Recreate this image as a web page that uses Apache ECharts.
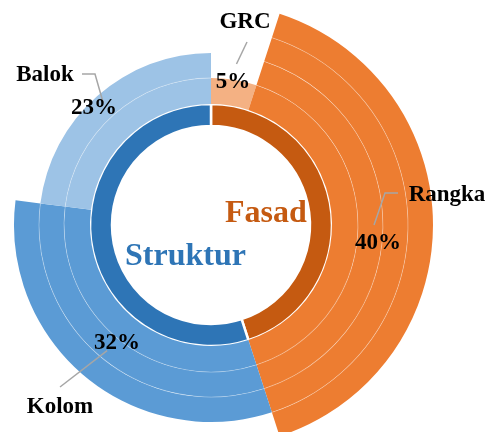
<!DOCTYPE html>
<html><head><meta charset="utf-8">
<script src="https://cdn.jsdelivr.net/npm/echarts@6/dist/echarts.min.js"></script>
<style>html,body{margin:0;padding:0;background:#fff}#c{width:487px;height:432px}</style>
</head><body><div id="c"></div>
<script>
const groupNames = ['Fasad', 'Struktur'];
const groupValues = [45, 55];
const groupColors = ['#C55A11', '#2E75B6'];
const itemNames = ['GRC', 'Rangka', 'Kolom', 'Balok'];
const itemValues = [5, 40, 32, 23];
const itemLayers = [1, 4, 3, 2];
const itemColors = ['#F4B183', '#ED7D31', '#5B9BD5', '#9DC3E6'];

// label placement (pixels), mirrors the manually positioned labels of the original
const pctLabelPos = [[233, 82], [378, 243], [117, 343], [94, 108]];
const nameLabelPos = [[245, 22], [447, 195], [60, 407], [45, 75]];
const nameLineBends = [[[247, 42], [247, 42]], [[385, 193], [398, 193]], [[60, 387], [60, 387]], [[95, 74], [82, 74]]];

const C = [211, 225];
const bandRadii = [121, 147, 172, 197, 222];
const FONT = "'Liberation Serif','Times New Roman',serif";

const chart = echarts.init(document.getElementById('c'), null, {renderer: 'canvas'});
const series = [];
series.push({
  type: 'pie', center: C, radius: [99, 121], silent: true, startAngle: 90,
  label: {show: false}, labelLine: {show: false},
  itemStyle: {borderColor: '#fff', borderWidth: 2.5},
  data: groupNames.map((n, i) => ({name: n, value: groupValues[i], itemStyle: {color: groupColors[i]}}))
});
for (let k = 0; k < bandRadii.length - 1; k++) {
  series.push({
    type: 'pie', center: C, radius: [bandRadii[k], bandRadii[k + 1]], silent: true, startAngle: 90,
    label: {show: false}, labelLine: {show: false},
    data: itemNames.map((n, i) => ({name: n, value: itemValues[i],
      itemStyle: {color: itemLayers[i] > k ? itemColors[i] : 'rgba(0,0,0,0)'}}))
  });
}
for (let k = 1; k < bandRadii.length - 1; k++) {
  series.push({
    type: 'pie', center: C, radius: [bandRadii[k] - 0.4, bandRadii[k] + 0.4], silent: true, startAngle: 90,
    label: {show: false}, labelLine: {show: false},
    data: itemNames.map((n, i) => ({name: n, value: itemValues[i],
      itemStyle: {color: itemLayers[i] > k ? 'rgba(255,255,255,0.38)' : 'rgba(0,0,0,0)'}}))
  });
}
// name labels
series.push({
  type: 'pie', center: C, radius: [0, 163], silent: true, startAngle: 90, avoidLabelOverlap: false, z: 5,
  label: {show: true, position: 'outside', formatter: '{b}', color: '#000', fontFamily: FONT, fontWeight: 'bold', fontSize: 23},
  labelLine: {show: true, length: 30, length2: 12, lineStyle: {color: '#A6A6A6', width: 1.5}},
  labelLayout: p => ({
    x: nameLabelPos[p.dataIndex][0], y: nameLabelPos[p.dataIndex][1], align: 'center', verticalAlign: 'middle',
    labelLinePoints: [p.labelLinePoints[0]].concat(nameLineBends[p.dataIndex])
  }),
  data: itemNames.map((n, i) => ({name: n, value: itemValues[i], itemStyle: {color: 'rgba(0,0,0,0)'}}))
});
// percent labels
series.push({
  type: 'pie', center: C, radius: [122, 190], silent: true, startAngle: 90, avoidLabelOverlap: false, z: 6,
  label: {show: true, position: 'inside', formatter: '{c}%', color: '#000', fontFamily: FONT, fontWeight: 'bold', fontSize: 23},
  labelLine: {show: false},
  labelLayout: p => ({x: pctLabelPos[p.dataIndex][0], y: pctLabelPos[p.dataIndex][1], align: 'center', verticalAlign: 'middle'}),
  data: itemNames.map((n, i) => ({name: n, value: itemValues[i], itemStyle: {color: 'rgba(0,0,0,0)'}}))
});

chart.setOption({
  animation: false,
  backgroundColor: '#fff',
  series: series,
  graphic: [
    {type: 'text', left: 225, top: 198, style: {text: groupNames[0], fill: groupColors[0], font: "bold 32px " + FONT}},
    {type: 'text', left: 125, top: 241, style: {text: groupNames[1], fill: groupColors[1], font: "bold 32px " + FONT}}
  ]
});
</script></body></html>
